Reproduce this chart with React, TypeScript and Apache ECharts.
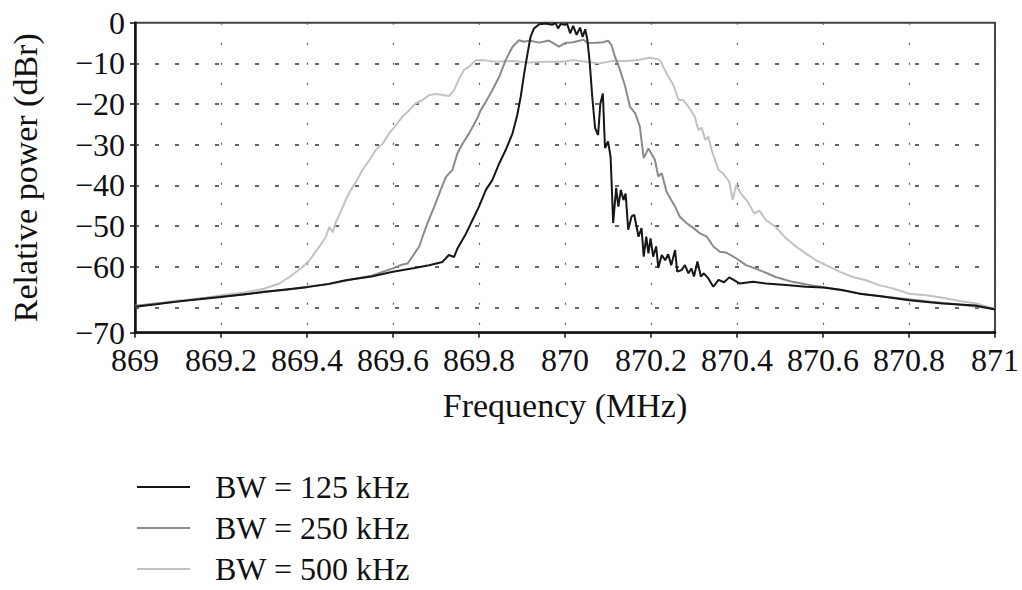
import React, { useEffect, useRef } from "react";
import * as echarts from "echarts";

const FONT = "Liberation Serif";

const seriesNames = ["BW = 125 kHz", "BW = 250 kHz", "BW = 500 kHz"];
const seriesColors = ["#161616", "#8a8a8a", "#c2c2c2"];

const yLabelValues = [0, -10, -20, -30, -40, -50, -60];
const yBottom = -76.2;
const yBottomLabel = "−70";
const gridLevels = [-10, -20, -30, -40, -50, -60, -70];

// [frequency MHz, relative power dBr]
const bw125: number[][] = [
  [869.0, -69.8], [869.05, -69.2], [869.1, -68.5], [869.15, -68.0], [869.2, -67.4],
  [869.25, -66.8], [869.3, -66.2], [869.35, -65.6], [869.4, -65.0], [869.45, -64.2],
  [869.49, -63.3], [869.55, -62.4], [869.6, -61.2], [869.65, -60.3], [869.684, -59.6],
  [869.715, -58.8], [869.73, -57.1], [869.742, -57.6], [869.75, -55.5], [869.77, -51.8],
  [869.785, -48.5], [869.8, -45.2], [869.816, -41.1], [869.831, -38.7], [869.847, -34.6],
  [869.862, -31.3], [869.878, -27.2], [869.889, -22.7], [869.897, -18.2], [869.905, -12.5],
  [869.913, -7.5], [869.92, -3.4], [869.928, -1.4], [869.94, -0.4], [869.955, -0.2],
  [869.97, -0.5], [869.978, -0.1], [869.984, -1.4], [869.99, -0.3], [870.0, -0.5],
  [870.005, -0.3], [870.012, -2.6], [870.019, -0.8], [870.027, -3.0], [870.035, -1.2],
  [870.041, -3.5], [870.047, -1.6], [870.052, -4.2], [870.057, -9.2], [870.064, -19.0],
  [870.07, -25.9], [870.077, -27.6], [870.082, -20.0], [870.088, -17.4], [870.093, -30.8],
  [870.1, -29.2], [870.106, -32.9], [870.112, -49.2], [870.119, -40.6], [870.124, -45.2],
  [870.13, -41.1], [870.136, -43.6], [870.141, -42.0], [870.147, -50.9], [870.155, -47.6],
  [870.161, -47.2], [870.171, -52.6], [870.178, -50.5], [870.183, -57.5], [870.189, -52.6],
  [870.194, -56.7], [870.199, -53.0], [870.205, -57.5], [870.212, -55.0], [870.217, -60.3],
  [870.225, -57.1], [870.233, -58.4], [870.24, -56.9], [870.247, -59.6], [870.256, -55.9],
  [870.261, -61.2], [870.271, -60.8], [870.279, -59.6], [870.287, -61.6], [870.294, -60.4],
  [870.3, -62.4], [870.308, -58.7], [870.316, -62.4], [870.323, -61.6], [870.333, -62.8],
  [870.345, -64.9], [870.357, -63.2], [870.37, -63.8], [870.382, -62.6], [870.406, -64.1],
  [870.437, -63.7], [870.467, -64.1], [870.514, -64.5], [870.56, -64.9], [870.6, -65.1],
  [870.645, -65.7], [870.684, -66.6], [870.73, -67.2], [870.8, -68.2], [870.878, -69.0],
  [870.955, -69.5], [871.0, -70.5],
];

const bw250: number[][] = [
  [869.0, -69.6], [869.05, -69.0], [869.1, -68.6], [869.15, -67.8], [869.2, -67.3],
  [869.25, -66.9], [869.3, -66.1], [869.35, -65.7], [869.4, -64.9], [869.45, -64.3],
  [869.5, -63.2], [869.55, -62.2], [869.6, -60.4], [869.62, -59.5], [869.634, -59.2],
  [869.645, -57.5], [869.661, -55.0], [869.669, -52.5], [869.68, -49.3], [869.696, -45.2],
  [869.711, -41.1], [869.723, -37.9], [869.738, -36.2], [869.75, -32.1], [869.762, -29.7],
  [869.777, -27.2], [869.796, -23.5], [869.804, -21.5], [869.816, -19.4], [869.831, -16.6],
  [869.847, -13.3], [869.862, -9.2], [869.878, -5.9], [869.893, -4.3], [869.905, -4.7],
  [869.916, -4.4], [869.94, -4.9], [869.963, -4.4], [869.986, -5.9], [870.0, -5.0],
  [870.019, -4.8], [870.043, -4.2], [870.053, -5.0], [870.073, -4.9], [870.089, -4.8],
  [870.1, -4.4], [870.108, -5.5], [870.116, -8.3], [870.128, -11.6], [870.14, -15.7],
  [870.151, -20.6], [870.163, -22.2], [870.174, -25.5], [870.183, -33.3], [870.194, -30.9],
  [870.209, -33.7], [870.217, -37.8], [870.225, -37.0], [870.236, -41.5], [870.247, -43.6],
  [870.256, -45.2], [870.267, -47.7], [870.283, -49.3], [870.299, -50.5], [870.314, -51.8],
  [870.33, -52.6], [870.345, -55.0], [870.36, -56.3], [870.375, -56.5], [870.398, -57.9],
  [870.421, -59.6], [870.452, -60.8], [870.49, -62.5], [870.529, -63.7], [870.568, -64.5],
  [870.607, -65.1], [870.65, -65.9], [870.7, -66.8], [870.75, -67.4], [870.8, -68.0],
  [870.85, -68.6], [870.9, -69.1], [870.95, -69.7], [871.0, -70.3],
];

const bw500: number[][] = [
  [869.0, -69.9], [869.05, -69.0], [869.1, -68.3], [869.15, -67.9], [869.2, -67.0],
  [869.25, -66.4], [869.3, -65.4], [869.313, -64.9], [869.336, -64.1], [869.359, -62.5],
  [869.375, -61.2], [869.39, -60.0], [869.406, -58.4], [869.417, -56.7], [869.429, -55.0],
  [869.444, -52.6], [869.452, -50.2], [869.46, -51.5], [869.467, -49.0], [869.475, -47.3],
  [869.49, -43.6], [869.502, -41.1], [869.514, -39.1], [869.529, -36.2], [869.545, -33.8],
  [869.56, -31.3], [869.576, -29.7], [869.591, -27.2], [869.607, -25.2], [869.622, -23.1],
  [869.638, -21.5], [869.653, -19.8], [869.669, -19.0], [869.684, -17.8], [869.7, -17.5],
  [869.731, -18.0], [869.742, -16.6], [869.754, -13.7], [869.765, -11.6], [869.777, -10.8],
  [869.793, -9.2], [869.808, -9.2], [869.839, -9.6], [869.878, -9.4], [869.916, -9.8],
  [869.955, -9.6], [869.994, -9.6], [870.019, -9.2], [870.05, -9.6], [870.08, -10.0],
  [870.111, -9.4], [870.142, -9.4], [870.173, -9.1], [870.196, -8.6], [870.212, -8.9],
  [870.221, -9.2], [870.236, -12.4], [870.252, -15.3], [870.264, -19.0], [870.275, -19.0],
  [870.287, -20.6], [870.302, -23.1], [870.31, -26.4], [870.318, -25.8], [870.326, -28.8],
  [870.333, -28.0], [870.341, -31.3], [870.357, -36.2], [870.367, -37.0], [870.382, -39.1],
  [870.39, -43.6], [870.398, -39.9], [870.409, -42.0], [870.425, -44.0], [870.44, -46.9],
  [870.452, -46.2], [870.467, -48.5], [870.49, -50.2], [870.514, -53.0], [870.537, -55.0],
  [870.56, -56.7], [870.584, -58.4], [870.607, -59.6], [870.638, -61.2], [870.669, -62.5],
  [870.7, -63.3], [870.73, -64.5], [870.762, -65.3], [870.8, -66.6], [870.84, -67.0],
  [870.878, -67.6], [870.918, -68.4], [870.957, -69.0], [871.0, -70.4],
];

const seriesData = [bw125, bw250, bw500];

export default function App() {
  const ref = useRef<HTMLDivElement>(null);
  useEffect(() => {
    if (!ref.current) return;
    const chart = echarts.init(ref.current, null, { renderer: "svg" });
    const yCustom = [...yLabelValues, yBottom];
    chart.setOption({
      animation: false,
      backgroundColor: "#ffffff",
      grid: {
        left: 135,
        right: 27,
        top: 22.7,
        bottom: 257.3,
        show: true,
        borderColor: "#444",
        borderWidth: 2,
      },
      legend: {
        orient: "vertical",
        left: 137,
        top: 471,
        itemWidth: 53,
        itemHeight: 2,
        itemGap: 9,
        padding: 0,
        icon: "rect",
        data: seriesNames,
        textStyle: {
          fontFamily: FONT,
          fontSize: 32,
          color: "#111",
          padding: [0, 0, 0, 20],
        },
      },
      xAxis: {
        type: "value",
        min: 869,
        max: 871,
        interval: 0.2,
        name: "Frequency (MHz)",
        nameLocation: "middle",
        nameGap: 56,
        nameTextStyle: { fontFamily: FONT, fontSize: 34, color: "#111" },
        axisLine: { show: true, onZero: false, lineStyle: { color: "#111", width: 2.5 } },
        axisTick: { show: true, length: 5, lineStyle: { color: "#111", width: 1.5 } },
        axisLabel: {
          fontFamily: FONT,
          fontSize: 32,
          color: "#111",
          margin: 11,
          formatter: (v: number) => String(Number(v.toFixed(1))),
        },
        splitLine: {
          show: true,
          lineStyle: { color: "#555", width: 1.2, type: [2, 18] },
        },
      },
      yAxis: {
        type: "value",
        min: yBottom,
        max: 0,
        name: "Relative power (dBr)",
        nameLocation: "middle",
        nameRotate: 90,
        nameGap: 93,
        nameTextStyle: { fontFamily: FONT, fontSize: 34, color: "#111" },
        axisLine: { show: true, onZero: false, lineStyle: { color: "#111", width: 2.5 } },
        axisTick: {
          show: true,
          length: 5,
          customValues: yCustom,
          lineStyle: { color: "#111", width: 1.5 },
        },
        axisLabel: {
          fontFamily: FONT,
          fontSize: 32,
          color: "#111",
          margin: 10,
          customValues: yCustom,
          formatter: (v: number) =>
            Math.abs(v - yBottom) < 0.01 ? yBottomLabel : v === 0 ? "0" : "−" + Math.abs(v),
        },
        splitLine: { show: false },
      },
      series: seriesNames.map((name, i) => ({
        name,
        type: "line",
        data: seriesData[i],
        symbol: "none",
        smooth: false,
        z: 10 - i,
        lineStyle: { color: seriesColors[i], width: 2 },
        itemStyle: { color: seriesColors[i] },
        markLine:
          i === 0
            ? {
                silent: true,
                symbol: "none",
                label: { show: false },
                lineStyle: { color: "#333", width: 1.5, type: [4, 16] },
                data: gridLevels.map((v) => ({ yAxis: v })),
                z: 1,
              }
            : undefined,
      })),
    });
    return () => chart.dispose();
  }, []);
  return <div ref={ref} style={{ width: 1022, height: 590, position: "absolute", left: 0, top: 0 }} />;
}
